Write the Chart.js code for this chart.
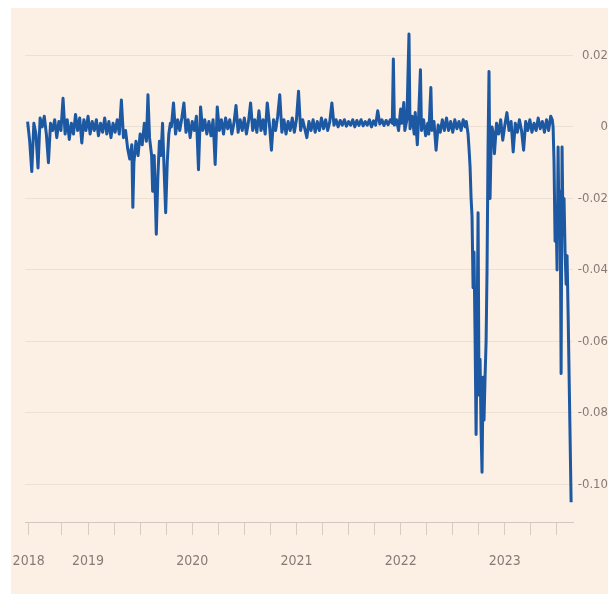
<!DOCTYPE html>
<html>
<head>
<meta charset="utf-8">
<script src="https://cdn.jsdelivr.net/npm/chart.js@4.4.1/dist/chart.umd.min.js"></script>
<style>
  html, body { margin: 0; padding: 0; background: #ffffff; }
  #bg { position: absolute; left: 11px; top: 8px; width: 597px; height: 586px; background: #fcefe4; }
  #wrap { position: absolute; left: 0; top: 0; width: 608px; height: 594px; }
</style>
</head>
<body>
<div id="bg"></div>
<div id="wrap"><canvas id="chart"></canvas></div>
<script>
// Sample dates (decimal years)
const years = [
    // mid 2018 - mid 2019
    2018.42, 2018.44, 2018.46, 2018.48, 2018.50, 2018.52, 2018.54, 2018.56, 2018.58, 2018.60,
    2018.62, 2018.64, 2018.66, 2018.68, 2018.70, 2018.72, 2018.74, 2018.76, 2018.78, 2018.80,
    2018.82, 2018.84, 2018.86, 2018.88, 2018.90, 2018.92, 2018.94, 2018.96, 2018.98, 2019.00,
    2019.02, 2019.04, 2019.06, 2019.08, 2019.10, 2019.12, 2019.14, 2019.16, 2019.18, 2019.20,
    2019.22, 2019.24, 2019.26, 2019.28, 2019.30, 2019.32, 2019.34, 2019.36, 2019.38, 2019.40,
    // summer 2019 dips
    2019.42, 2019.43, 2019.44, 2019.46, 2019.48, 2019.50, 2019.52, 2019.54, 2019.56, 2019.575,
    2019.59, 2019.61, 2019.62, 2019.635, 2019.655, 2019.67, 2019.685, 2019.70, 2019.715, 2019.73,
    2019.745, 2019.76, 2019.775, 2019.79,
    // late 2019 - 2021
    2019.80, 2019.82, 2019.84, 2019.86, 2019.88, 2019.90, 2019.92, 2019.94, 2019.96, 2019.98,
    2020.00, 2020.02, 2020.04, 2020.06, 2020.08, 2020.10, 2020.12, 2020.14, 2020.16, 2020.18,
    2020.20, 2020.22, 2020.24, 2020.26, 2020.28, 2020.30, 2020.32, 2020.34, 2020.36, 2020.38,
    2020.40, 2020.42, 2020.44, 2020.46, 2020.48, 2020.50, 2020.52, 2020.54, 2020.56, 2020.58,
    2020.60, 2020.62, 2020.64, 2020.66, 2020.68, 2020.70, 2020.72, 2020.74, 2020.76, 2020.78,
    2020.80, 2020.82, 2020.84, 2020.86, 2020.88, 2020.90, 2020.92, 2020.94, 2020.96, 2020.98,
    2021.00, 2021.02, 2021.04, 2021.06, 2021.08, 2021.10, 2021.12, 2021.14, 2021.16, 2021.18,
    2021.20, 2021.22, 2021.24, 2021.26, 2021.28, 2021.30, 2021.32, 2021.34, 2021.36, 2021.38,
    2021.40, 2021.42, 2021.44, 2021.46, 2021.48, 2021.50, 2021.52, 2021.54, 2021.56, 2021.58,
    2021.60, 2021.62, 2021.64, 2021.66, 2021.68, 2021.70, 2021.72, 2021.74, 2021.76, 2021.78,
    2021.80, 2021.82, 2021.84, 2021.86, 2021.88, 2021.90, 2021.92,
    // 2022 spikes
    2021.93, 2021.94, 2021.96, 2021.98, 2022.00, 2022.01, 2022.03, 2022.04, 2022.06, 2022.08,
    2022.09, 2022.11, 2022.13, 2022.14, 2022.16, 2022.17, 2022.19, 2022.20, 2022.22, 2022.24,
    2022.26, 2022.27, 2022.29, 2022.30, 2022.32, 2022.34, 2022.36, 2022.38, 2022.40, 2022.42,
    2022.44, 2022.46, 2022.48, 2022.50, 2022.52, 2022.54, 2022.56, 2022.58, 2022.60, 2022.62,
    2022.63,
    // autumn 2022 plunge
    2022.647, 2022.656, 2022.666, 2022.676, 2022.685, 2022.695, 2022.704, 2022.714, 2022.724, 2022.733,
    2022.743, 2022.752, 2022.762, 2022.772, 2022.781, 2022.791, 2022.800, 2022.810, 2022.820, 2022.829,
    2022.839, 2022.848, 2022.858, 2022.868, 2022.877,
    // 2023
    2022.89, 2022.90, 2022.92, 2022.94, 2022.96, 2022.98, 2023.00, 2023.02, 2023.04, 2023.06,
    2023.08, 2023.10, 2023.12, 2023.14, 2023.16, 2023.18, 2023.20, 2023.22, 2023.24, 2023.26,
    2023.28, 2023.30, 2023.32, 2023.34, 2023.36, 2023.38, 2023.40, 2023.42, 2023.44, 2023.455,
    // final slide
    2023.463, 2023.472, 2023.482, 2023.492, 2023.501, 2023.511, 2023.520, 2023.530, 2023.540, 2023.549,
    2023.559, 2023.568, 2023.578, 2023.588, 2023.597, 2023.607, 2023.636
];

const spread = [
    0.0015, -0.004, -0.0125, 0.001, -0.002, -0.0115, 0.0025, 0, 0.003, -0.002,
    -0.010, 0.001, -0.001, 0.002, -0.003, 0.0015, -0.001, 0.008, -0.002, 0.002,
    -0.0035, 0.001, -0.002, 0.0035, -0.001, 0.0025, -0.0045, 0.002, -0.001, 0.003,
    -0.002, 0.0015, -0.001, 0.002, -0.0025, 0.001, -0.0015, 0.0025, -0.002, 0.0015,
    -0.003, 0.001, -0.0015, 0.002, -0.002, 0.0075, -0.003, -0.001, -0.006, -0.009,

    -0.005, -0.0225, -0.010, -0.004, -0.008, -0.002, -0.005, 0.001, -0.004, 0.009,
    -0.003, -0.008, -0.018, -0.008, -0.030, -0.014, -0.004, -0.008, 0.001, -0.012,
    -0.024, -0.010, -0.002, 0.001,

    0, 0.0067, -0.002, 0.002, -0.001, 0.0025, 0.0067, -0.0015, 0.002, -0.003,
    0.0015, -0.001, 0.003, -0.012, 0.0056, -0.001, 0.002, -0.002, 0.0015, -0.0025,
    0.002, -0.0105, 0.0056, -0.001, 0.002, -0.002, 0.0025, -0.0005, 0.002, -0.002,
    0.001, 0.006, -0.0015, 0.002, -0.001, 0.0025, -0.002, 0.0015, 0.0067, -0.001,
    0.002, -0.0015, 0.0045, -0.001, 0.002, -0.002, 0.0067, 0.001, -0.0065, 0.002,
    -0.001, 0.003, 0.009, -0.0015, 0.002, -0.002, 0.0015, -0.001, 0.0025, -0.0015,
    0.002, 0.010, -0.001, 0.002, -0.0005, -0.003, 0.0015, -0.001, 0.002, -0.0015,
    0.0015, -0.001, 0.0025, -0.0005, 0.002, -0.001, 0.0015, 0.0067, 0.0005, 0.002,
    0, 0.0018, 0.0005, 0.002, 0.0002, 0.0015, 0.0005, 0.002, 0, 0.0018,
    0.0004, 0.002, 0.0003, 0.0015, 0.0005, 0.002, 0, 0.0017, 0.0005, 0.0045,
    0.0008, 0.002, 0.0004, 0.0018, 0.0006, 0.002, 0.001,

    0.019, 0.0005, 0.002, -0.001, 0.005, 0.001, 0.0068, -0.001, 0.002, 0.026,
    -0.0005, 0.003, -0.002, 0.004, -0.005, 0.001, 0.016, -0.001, 0.002, -0.0025,
    0.001, -0.002, 0.011, -0.001, 0.0015, -0.0065, 0.0005, -0.0015, 0.002, -0.001,
    0.0025, -0.001, 0.0015, -0.0015, 0.002, -0.0005, 0.0015, -0.001, 0.002, 0,
    0.0015,

    -0.002, -0.006, -0.011, -0.020, -0.025, -0.045, -0.035, -0.058, -0.086, -0.060,
    -0.024, -0.075, -0.065, -0.085, -0.0966, -0.070, -0.082, -0.070, -0.060, -0.040,
    -0.005, 0.0155, -0.020, -0.005, 0,

    -0.002, -0.0075, 0.001, -0.002, 0.002, -0.0037, 0.0005, 0.004, -0.001, 0.0015,
    -0.007, 0.001, -0.0015, 0.002, -0.001, -0.0065, 0.0015, -0.001, 0.002, -0.0015,
    0.001, -0.001, 0.0025, -0.0005, 0.0015, -0.0015, 0.002, -0.001, 0.003, 0.002,

    0, -0.010, -0.032, -0.025, -0.040, -0.0056, -0.030, -0.018, -0.069, -0.0056,
    -0.030, -0.020, -0.035, -0.044, -0.036, -0.052, -0.105
];

// Axis ticks
const xTickValues = [2018.43, 2018.75, 2019, 2019.25, 2019.5, 2019.75, 2020, 2020.25, 2020.5, 2020.75,
    2021, 2021.25, 2021.5, 2021.75, 2022, 2022.25, 2022.5, 2022.75, 2023, 2023.25, 2023.5];
const xTickLabels = ['2018', '', '2019', '', '', '', '2020', '', '', '',
    '2021', '', '', '', '2022', '', '', '', '2023', '', ''];
const yTickValues = [0.02, 0, -0.02, -0.04, -0.06, -0.08, -0.10];
const yTickLabels = ['0.02', '0', '-0.02', '-0.04', '-0.06', '-0.08', '-0.10'];

const labelFamily = "'Liberation Sans Narrow', 'DejaVu Sans Condensed', 'Roboto', sans-serif";

document.addEventListener('DOMContentLoaded', function() {
    const ctx = document.getElementById('chart').getContext('2d');
    new Chart(ctx, {
        type: 'line',
        data: {
            datasets: [{
                data: years.map((t, i) => ({ x: t, y: spread[i] })),
                borderColor: '#1d58a3',
                borderWidth: 3,
                borderJoinStyle: 'round',
                pointRadius: 0,
                tension: 0,
                fill: false
            }]
        },
        options: {
            responsive: true,
            maintainAspectRatio: false,
            animation: false,
            layout: { padding: { top: 20, left: 25, right: 0, bottom: 0 } },
            plugins: { legend: { display: false }, tooltip: { enabled: false } },
            scales: {
                x: {
                    type: 'linear',
                    min: 2018.395,
                    max: 2023.654,
                    afterBuildTicks: s => { s.ticks = xTickValues.map(v => ({ value: v })); },
                    // keep the plot edges fixed, labels may hang over
                    afterFit: s => { s.height = 72; s.paddingLeft = 0; s.paddingRight = 0; },
                    grid: { display: true, drawOnChartArea: false, drawTicks: true, tickLength: 13, color: '#d6ccc3' },
                    border: { display: true, color: '#d2c8bf' },
                    ticks: {
                        autoSkip: false,
                        maxRotation: 0,
                        padding: 18,
                        color: '#857c75',
                        font: { family: labelFamily, size: 14 },
                        callback: (v, i) => xTickLabels[i]
                    }
                },
                y: {
                    position: 'right',
                    min: -0.1105,
                    max: 0.0299,
                    afterBuildTicks: s => { s.ticks = yTickValues.map(v => ({ value: v })); },
                    afterFit: s => { s.width = 35; },
                    grid: { color: '#ecdfd4', drawTicks: false },
                    border: { display: false },
                    ticks: {
                        padding: 5,
                        crossAlign: 'far',
                        color: '#857c75',
                        font: { family: labelFamily, size: 13 },
                        callback: (v, i) => yTickLabels[i]
                    }
                }
            }
        }
    });
});
</script>
</body>
</html>
